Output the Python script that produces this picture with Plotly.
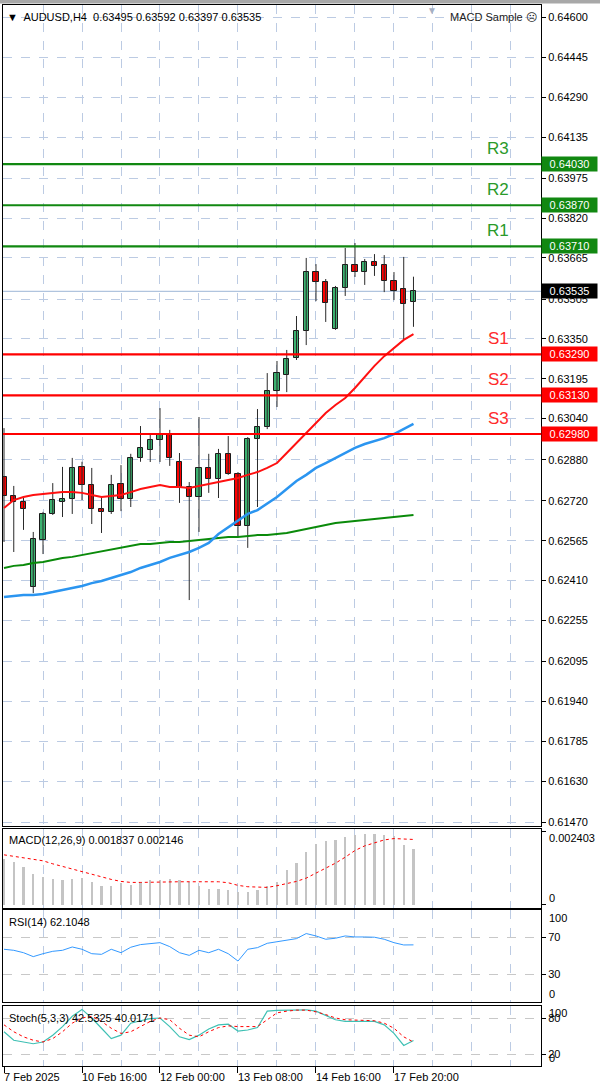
import plotly.graph_objects as go

# ---------------- data ----------------
time_labels = ["7 Feb 2025", "10 Feb 16:00", "12 Feb 00:00", "13 Feb 08:00", "14 Feb 16:00", "17 Feb 20:00"]
time_label_idx = [0, 8, 16, 24, 32, 40]

opens = [0.62813, 0.62739, 0.62715, 0.62385, 0.62568, 0.62669, 0.62715, 0.62727, 0.62852, 0.62782,
         0.62688, 0.62677, 0.62786, 0.62727, 0.62887, 0.62918, 0.62957, 0.62976, 0.62871, 0.62774,
         0.62735, 0.62848, 0.62805, 0.62903, 0.62824, 0.62622, 0.62961, 0.63007, 0.63147, 0.63210,
         0.63276, 0.63381, 0.63610, 0.63571, 0.63389, 0.63548, 0.63637, 0.63610, 0.63649, 0.63637,
         0.63575, 0.63544, 0.63495]
highs = [0.63003, 0.62778, 0.62735, 0.62599, 0.62677, 0.62789, 0.62852, 0.62887, 0.62872, 0.62848,
         0.62735, 0.62821, 0.62859, 0.62903, 0.63011, 0.62976, 0.63081, 0.62996, 0.62906, 0.62793,
         0.63046, 0.62903, 0.62922, 0.62972, 0.62832, 0.62968, 0.63077, 0.63217, 0.63264, 0.63307,
         0.63439, 0.63665, 0.63641, 0.63583, 0.63556, 0.63704, 0.63723, 0.63661, 0.63680, 0.63676,
         0.63610, 0.63669, 0.63592]
lows = [0.62560, 0.62521, 0.62607, 0.62361, 0.62513, 0.62665, 0.62657, 0.62669, 0.62723, 0.62630,
        0.62595, 0.62669, 0.62680, 0.62696, 0.62872, 0.62871, 0.62871, 0.62856, 0.62712, 0.62334,
        0.62599, 0.62751, 0.62731, 0.62821, 0.62579, 0.62537, 0.62696, 0.62999, 0.63085, 0.63143,
        0.63268, 0.63326, 0.63497, 0.63416, 0.63385, 0.63517, 0.63591, 0.63560, 0.63595, 0.63532,
        0.63501, 0.63346, 0.63397]
closes = [0.62739, 0.62715, 0.62688, 0.62572, 0.62669, 0.62723, 0.62727, 0.62848, 0.62782, 0.62688,
          0.62677, 0.62782, 0.62727, 0.62887, 0.62926, 0.62957, 0.62976, 0.62887, 0.62774, 0.62735,
          0.62848, 0.62805, 0.62903, 0.62824, 0.62622, 0.62961, 0.63007, 0.63147, 0.63217, 0.63272,
          0.63381, 0.63610, 0.63571, 0.63490, 0.63548, 0.63637, 0.63610, 0.63649, 0.63634, 0.63575,
          0.63536, 0.63486, 0.63535]

ma_red = [0.62692, 0.62723, 0.62735, 0.62743, 0.62747, 0.62751, 0.62754, 0.62754, 0.62751, 0.62743,
          0.62735, 0.62739, 0.62743, 0.62754, 0.62766, 0.62774, 0.62782, 0.62774, 0.62774, 0.62770,
          0.62778, 0.62786, 0.62793, 0.62801, 0.62809, 0.62821, 0.62832, 0.62848, 0.62867, 0.62906,
          0.62945, 0.62984, 0.63023, 0.63062, 0.63093, 0.63120, 0.63159, 0.63202, 0.63245, 0.63283,
          0.63315, 0.63346, 0.63369]
ma_blue = [0.62346, 0.62350, 0.62354, 0.62354, 0.62358, 0.62365, 0.62373, 0.62381, 0.62389, 0.62400,
           0.62408, 0.62420, 0.62432, 0.62443, 0.62459, 0.62470, 0.62482, 0.62498, 0.62509, 0.62521,
           0.62537, 0.62556, 0.62591, 0.62618, 0.62642, 0.62669, 0.62684, 0.62708, 0.62735, 0.62766,
           0.62797, 0.62821, 0.62848, 0.62867, 0.62887, 0.62906, 0.62926, 0.62941, 0.62953, 0.62964,
           0.62980, 0.62999, 0.63019]
ma_green = [0.62459, 0.62467, 0.62470, 0.62478, 0.62482, 0.62490, 0.62498, 0.62502, 0.62509, 0.62517,
            0.62525, 0.62529, 0.62537, 0.62544, 0.62552, 0.62552, 0.62556, 0.62560, 0.62560, 0.62564,
            0.62568, 0.62572, 0.62575, 0.62579, 0.62579, 0.62583, 0.62587, 0.62587, 0.62591, 0.62595,
            0.62603, 0.62610, 0.62618, 0.62626, 0.62634, 0.62638, 0.62642, 0.62645, 0.62649, 0.62653,
            0.62657, 0.62661, 0.62665]

macd_hist = [0.001497, 0.001388, 0.001224, 0.001016, 0.000896, 0.000842, 0.000820, 0.000853, 0.000863, 0.000732,
             0.000623, 0.000623, 0.000710, 0.000656, 0.000732, 0.000798, 0.000820, 0.000853, 0.000820, 0.000732,
             0.000623, 0.000525, 0.000514, 0.000492, 0.000405, 0.000415, 0.000492, 0.000601, 0.000743, 0.001126,
             0.001366, 0.001727, 0.002000, 0.002110, 0.002131, 0.002241, 0.002295, 0.002317, 0.002317, 0.002295,
             0.002263, 0.001967, 0.001837]
macd_signal = [0.001640, 0.001596, 0.001552, 0.001508, 0.001443, 0.001344, 0.001257, 0.001170, 0.001093, 0.000995,
               0.000907, 0.000831, 0.000765, 0.000732, 0.000732, 0.000743, 0.000743, 0.000754, 0.000754, 0.000754,
               0.000754, 0.000754, 0.000754, 0.000721, 0.000634, 0.000590, 0.000568, 0.000568, 0.000623, 0.000689,
               0.000765, 0.000874, 0.001038, 0.001191, 0.001366, 0.001563, 0.001782, 0.001935, 0.002044, 0.002131,
               0.002175, 0.002160, 0.002146]

rsi = [57.3, 56.2, 53.6, 49.3, 52.5, 55.1, 56.2, 59.8, 57.3, 52.5, 51.8, 57.3, 53.6, 59.5, 62.4, 63.5,
       64.5, 60.2, 53.6, 50.7, 56.2, 53.6, 57.3, 52.5, 44.5, 57.3, 59.1, 63.8, 65.6, 66.7, 68.9, 74.4,
       71.8, 68.2, 69.3, 71.8, 70.7, 70.7, 70.4, 68.2, 64.5, 62.0, 62.1]

stoch_k = [57.1, 42.9, 40.0, 37.1, 40.0, 51.4, 65.7, 82.9, 94.3, 80.0, 62.9, 45.7, 51.4, 71.4, 75.4, 78.9,
           80.0, 65.7, 48.6, 44.0, 51.4, 61.7, 68.6, 69.7, 58.3, 60.0, 64.0, 91.4, 92.6, 93.1, 93.7, 93.7,
           91.4, 84.6, 77.1, 74.3, 74.3, 75.4, 74.3, 68.6, 54.3, 34.3, 42.5]
stoch_d = [68.6, 57.1, 48.6, 42.9, 40.0, 45.7, 57.1, 71.4, 80.0, 82.9, 74.3, 62.9, 54.3, 57.1, 65.7, 74.3,
           80.0, 77.1, 62.9, 51.4, 48.6, 57.1, 64.0, 66.9, 65.7, 65.7, 65.7, 77.1, 88.6, 91.4, 93.1, 93.1,
           90.3, 85.7, 80.0, 77.1, 76.0, 76.0, 75.4, 71.4, 62.9, 48.6, 40.0]

level_names = ["R3", "R2", "R1", "S1", "S2", "S3"]
level_values = [0.64030, 0.63870, 0.63710, 0.63290, 0.63130, 0.62980]
last_price = 0.63535

price_ticks = [0.64600, 0.64445, 0.64290, 0.64135, 0.63975, 0.63820, 0.63665, 0.63505, 0.63350, 0.63195,
               0.63040, 0.62880, 0.62720, 0.62565, 0.62410, 0.62255, 0.62095, 0.61940, 0.61785, 0.61630,
               0.61470]

header_text = "▼  AUDUSD,H4  0.63495 0.63592 0.63397 0.63535"
ea_text = "MACD Sample ☹"
macd_label = "MACD(12,26,9) 0.001837 0.002146"
rsi_label = "RSI(14) 62.1048"
stoch_label = "Stoch(5,3,3) 42.5325 40.0171"

# ---------------- styling ----------------
FONT = "Liberation Sans, Arial, sans-serif"
GRID = "#bccbe3"
GREEN_BODY = "#3cb371"
RED_BODY = "#ff0000"
LVL_GREEN = "#118811"
LVL_RED = "#ff0000"
TXT_GREEN = "#2a9a2a"
TXT_RED = "#ff2b2b"

n = len(opens)
idx = list(range(n))
XR = [-0.103, 55.08]

# pane layout (pixels -> paper fractions)
T, B = 5, 22
H = 1088 - T - B
def frac(y):
    return (1088 - B - y) / H

dom_main = [frac(826), 1.0]
dom_macd = [frac(908), frac(829)]
dom_rsi = [frac(1002), frac(910)]
dom_sto = [0.0, frac(1006)]

fig = go.Figure()

# wicks
wx, wy = [], []
for i in idx:
    wx += [i, i, None]
    wy += [lows[i], highs[i], None]
fig.add_trace(go.Scatter(x=wx, y=wy, mode="lines", line=dict(color="#2a2a2a", width=1),
                         xaxis="x", yaxis="y", hoverinfo="skip"))
# bodies
bases = [min(o, c) for o, c in zip(opens, closes)]
heights = [max(abs(c - o), 0.00002) for o, c in zip(opens, closes)]
cols = [GREEN_BODY if c >= o else RED_BODY for o, c in zip(opens, closes)]
fig.add_trace(go.Bar(x=idx, y=heights, base=bases, width=0.56, marker=dict(color=cols, line=dict(color="#1a1a1a", width=1)),
                     xaxis="x", yaxis="y"))

# moving averages
fig.add_trace(go.Scatter(x=idx, y=ma_green, mode="lines", line=dict(color="#0a8a0a", width=2), xaxis="x", yaxis="y"))
fig.add_trace(go.Scatter(x=idx, y=ma_blue, mode="lines", line=dict(color="#2b95f0", width=2.5), xaxis="x", yaxis="y"))
fig.add_trace(go.Scatter(x=idx, y=ma_red, mode="lines", line=dict(color="#ff1010", width=2), xaxis="x", yaxis="y"))

# MACD
fig.add_trace(go.Bar(x=idx, y=macd_hist, width=0.22, marker=dict(color="#c4c4c4", line=dict(width=0)),
                     xaxis="x2", yaxis="y2"))
fig.add_trace(go.Scatter(x=idx, y=macd_signal, mode="lines", line=dict(color="#ff0000", width=1, dash="3px,3px"),
                         xaxis="x2", yaxis="y2"))
# RSI
fig.add_trace(go.Scatter(x=idx, y=rsi, mode="lines", line=dict(color="#3399ff", width=1), xaxis="x3", yaxis="y3"))
# Stochastic
fig.add_trace(go.Scatter(x=idx, y=stoch_k, mode="lines", line=dict(color="#3fc0b4", width=1.2), xaxis="x4", yaxis="y4"))
fig.add_trace(go.Scatter(x=idx, y=stoch_d, mode="lines", line=dict(color="#ff0000", width=1, dash="3px,3px"),
                         xaxis="x4", yaxis="y4"))

shapes = []
# current price line
shapes.append(dict(type="line", xref="x domain", yref="y", x0=0, x1=1, y0=last_price, y1=last_price,
                   line=dict(color="#b0c4de", width=1.2), layer="below"))
# level lines
for name, v in zip(level_names, level_values):
    c = LVL_GREEN if name.startswith("R") else LVL_RED
    shapes.append(dict(type="line", xref="x domain", yref="y", x0=0, x1=1, y0=v, y1=v,
                       line=dict(color=c, width=2.2)))
# window chrome at top
shapes.append(dict(type="rect", xref="paper", yref="paper", x0=-0.01, x1=1.12, y0=1.0 + 1.5 / H, y1=1.0 + 6 / H,
                   fillcolor="#a8a8a8", line=dict(width=0)))

ann = []
f11 = dict(family=FONT, size=11, color="#000000")
ann.append(dict(text=header_text, xref="paper", yref="paper", x=0, y=1, xanchor="left", yanchor="middle",
                xshift=2, yshift=-12, showarrow=False, font=f11))
ann.append(dict(text=ea_text, xref="paper", yref="paper", x=1, y=1, xanchor="right", yanchor="middle",
                xshift=-2, yshift=-12, showarrow=False, font=dict(family=FONT, size=11, color="#222")))
ann.append(dict(text="▼", xref="x", yref="paper", x=43.9, y=1, xanchor="center", yanchor="top",
                yshift=2, showarrow=False, font=dict(family=FONT, size=10, color="#a6b0c4")))
for name, v in zip(level_names, level_values):
    isr = name.startswith("R")
    ann.append(dict(text=name, xref="x", yref="y", x=50.7, y=v, xanchor="center", yanchor="bottom",
                    yshift=4, showarrow=False, font=dict(family=FONT, size=17, color=TXT_GREEN if isr else TXT_RED)))
    ann.append(dict(text=f"{v:.5f}", xref="paper", yref="y", x=1, y=v, xanchor="left", yanchor="middle",
                    xshift=0, showarrow=False, width=53, height=12, bgcolor=LVL_GREEN if isr else LVL_RED,
                    font=dict(family=FONT, size=11, color="#ffffff")))
ann.append(dict(text=f"{last_price:.5f}", xref="paper", yref="y", x=1, y=last_price, xanchor="left", yanchor="middle",
                showarrow=False, width=53, height=12, bgcolor="#000000", font=dict(family=FONT, size=11, color="#ffffff")))
# pane labels
ann.append(dict(text=macd_label, xref="paper", yref="paper", x=0, y=dom_macd[1], xanchor="left", yanchor="top",
                xshift=4, yshift=-3, showarrow=False, font=f11))
ann.append(dict(text=rsi_label, xref="paper", yref="paper", x=0, y=dom_rsi[1], xanchor="left", yanchor="top",
                xshift=4, yshift=-4, showarrow=False, font=f11))
ann.append(dict(text=stoch_label, xref="paper", yref="paper", x=0, y=dom_sto[1], xanchor="left", yanchor="top",
                xshift=4, yshift=-4, showarrow=False, font=f11))
# edge scale labels of sub panes
for txt, yr, yv, ys in [("0.002403", "y2", 0.002403, -6), ("0", "y2", 0.0, 7),
                        ("100", "y3", 100, -8), ("0", "y3", 0, 8),
                        ("100", "y4", 100, -7), ("0", "y4", 0, 8)]:
    ann.append(dict(text=txt, xref="paper", yref=yr, x=1, y=yv, xanchor="left", yanchor="middle",
                    xshift=6, yshift=ys, showarrow=False, font=f11))
# time labels
for i, lab in zip(time_label_idx, time_labels):
    ann.append(dict(text=lab, xref="x4", yref="paper", x=i, y=0, xanchor="left", yanchor="top",
                    xshift=-2, yshift=-3, showarrow=False, font=f11))

grid4 = list(range(0, 56, 4))
common_x = dict(range=XR, showgrid=True, gridcolor=GRID, griddash="dash", gridwidth=1, zeroline=False,
                showline=True, mirror=True, linecolor="#000000", linewidth=1, showticklabels=False, fixedrange=True)
common_y = dict(side="right", showline=True, mirror=True, linecolor="#000000", linewidth=1, zeroline=False,
                ticks="outside", ticklen=4, tickcolor="#000000", tickfont=f11, fixedrange=True)

fig.update_layout(
    width=600, height=1088,
    margin=dict(l=3, r=59, t=T, b=B),
    paper_bgcolor="#ffffff", plot_bgcolor="#ffffff",
    showlegend=False, barmode="overlay", bargap=0,
    font=dict(family=FONT, size=11, color="#000"),
    xaxis=dict(common_x, domain=[0, 1], anchor="y", tickvals=grid4, ticks=""),
    xaxis2=dict(common_x, domain=[0, 1], anchor="y2", tickvals=grid4, ticks=""),
    xaxis3=dict(common_x, domain=[0, 1], anchor="y3", tickvals=grid4, ticks=""),
    xaxis4=dict(common_x, domain=[0, 1], anchor="y4", tickvals=time_label_idx, ticks="outside", ticklen=6,
                tickcolor="#000", minor=dict(tickvals=[4, 12, 20, 28, 36, 44, 48, 52], showgrid=True,
                                             gridcolor=GRID, griddash="dash", ticks="")),
    yaxis=dict(common_y, domain=dom_main, anchor="x", range=[0.61455, 0.64649], tickvals=price_ticks,
               ticktext=[f"{v:.5f}" for v in price_ticks], showgrid=True, gridcolor=GRID, griddash="dash"),
    yaxis2=dict(common_y, domain=dom_macd, anchor="x2", range=[-0.00011, 0.00249], tickvals=[0, 0.002403],
                showticklabels=False, showgrid=False),
    yaxis3=dict(common_y, domain=dom_rsi, anchor="x3", range=[0, 100], tickvals=[30, 70], ticktext=["30", "70"],
                showgrid=True, gridcolor="#c8c8c8", griddash="dash"),
    yaxis4=dict(common_y, domain=dom_sto, anchor="x4", range=[0, 100], tickvals=[20, 80], ticktext=["20", "80"],
                showgrid=True, gridcolor="#c8c8c8", griddash="dash"),
    shapes=shapes, annotations=ann,
)

fig.write_html("out.html", config={"displayModeBar": False},
               post_script="document.body.style.margin='0';document.body.style.overflow='hidden';")
